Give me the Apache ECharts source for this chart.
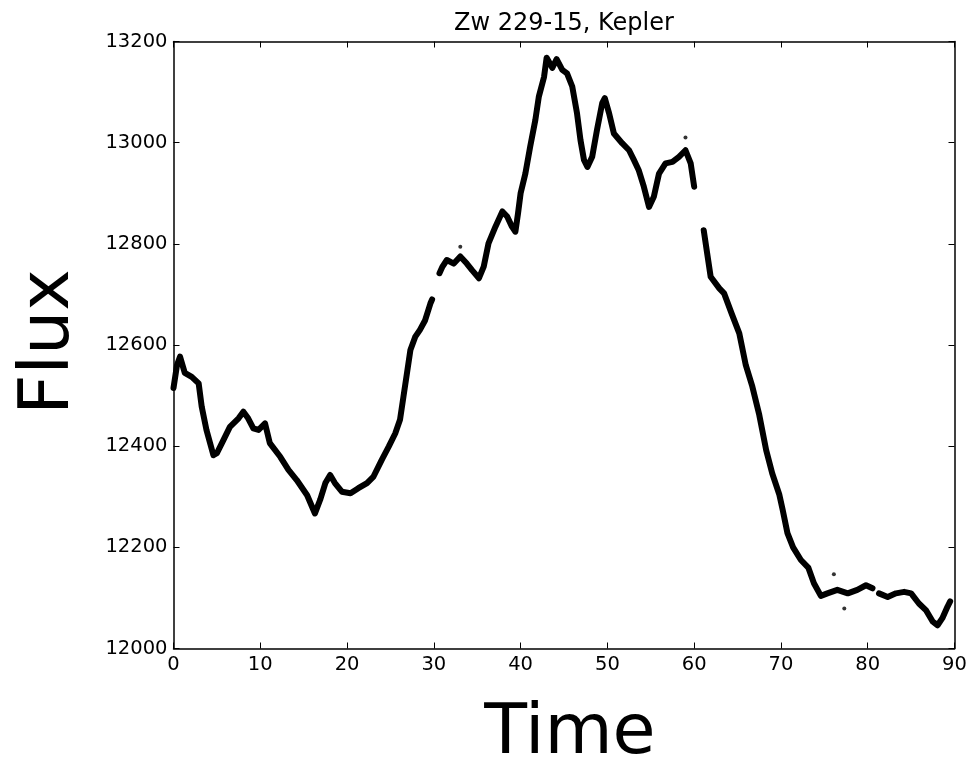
<!DOCTYPE html>
<html>
<head>
<meta charset="utf-8">
<title>Zw 229-15, Kepler</title>
<script src="https://cdn.jsdelivr.net/npm/echarts@6/dist/echarts.min.js"></script>
<style>
  html, body { margin: 0; padding: 0; background: #ffffff; }
  #chart { width: 974px; height: 767px; }
</style>
</head>
<body>
<div id="chart"></div>
<script>
// Light curve of Zw 229-15 (Kepler), time in days, flux in counts.
// A null flux marks a gap between observing quarters.
var timeDays = [
  0, 0.4, 0.75, 1.3, 2.1, 2.9, 3.25, 3.8, 4.6, 5.0, 5.75, 6.5, 7.5, 8.05, 8.6, 9.2, 9.8, 10.55,
  11.1, 12.3, 13.25, 14.2, 15.4, 16.3, 16.9, 17.5, 18.05, 18.6, 19.4, 20.4, 21.3, 22.3, 23.05,
  24.0, 24.8, 25.55, 26.1, 26.5, 26.9, 27.3, 27.85, 28.4, 29.0, 29.6, 29.8,
  30.2,
  30.65, 31.0, 31.5, 32.3, 33.05, 33.8, 34.4, 35.2, 35.75, 36.3, 37.1, 37.9, 38.45, 39.0, 39.4,
  39.7, 40.0, 40.55, 41.1, 41.7, 42.1, 42.7, 43.0, 43.65, 44.15, 44.8, 45.35, 45.95, 46.5, 46.9,
  47.3, 47.7, 48.25, 48.8, 49.4, 49.7, 50.2, 50.75, 51.7, 52.5, 53.05, 53.6, 54.2, 54.8, 55.35,
  55.95, 56.7, 57.5, 58.25, 59.0, 59.6, 60.0,
  60.5,
  61.1, 61.5, 61.9, 62.9, 63.45, 64.3, 65.2, 65.95, 66.7, 67.5, 68.3, 69.0, 69.8, 70.2, 70.75,
  71.4, 72.3, 73.15, 73.8, 74.6, 75.35, 76.5, 77.7, 78.8, 79.8, 80.55,
  80.9,
  81.3, 82.3, 83.25, 84.2, 85.0, 85.9, 86.7, 87.5, 88.05, 88.6, 89.2, 89.5
];
var fluxCounts = [
  12515, 12560, 12577, 12545, 12537, 12524, 12478, 12432, 12382, 12386, 12412, 12438, 12455, 12468, 12455, 12435, 12432, 12445,
  12406, 12379, 12353, 12333, 12303, 12267, 12294, 12327, 12343, 12327, 12310, 12307, 12317, 12327, 12340,
  12373, 12399, 12425, 12452, 12498, 12544, 12590, 12616, 12630, 12649, 12682, 12690,
  null,
  12742, 12755, 12768, 12761, 12775, 12761, 12748, 12732, 12755, 12801, 12834, 12864, 12854, 12834, 12824,
  12860, 12900, 12939, 12992, 13045, 13091, 13130, 13168, 13148, 13165, 13144, 13137, 13111, 13058, 13005,
  12966, 12952, 12972, 13025, 13078, 13088, 13058, 13018, 12999, 12985, 12966, 12946, 12913, 12873, 12893,
  12939, 12959, 12962, 12972, 12985, 12959, 12913,
  null,
  12827, 12781, 12735, 12712, 12702, 12663, 12623, 12560, 12518, 12462, 12392, 12346, 12305, 12274, 12228,
  12200, 12175, 12160, 12129, 12104, 12109, 12116, 12109, 12116, 12125, 12119,
  null,
  12109, 12102, 12109, 12112, 12109, 12089, 12076, 12053, 12046, 12060, 12083, 12093
];
// Isolated points lying off the main band.
var strayTime = [33.05, 59.0, 76.1, 77.3];
var strayFlux = [12794, 13010, 12147, 12079];

var xTicks = { min: 0, max: 90, step: 10 };
var yTicks = { min: 12000, max: 13200, step: 200 };

var chart = echarts.init(document.getElementById('chart'), null, { renderer: 'canvas' });

var curve = timeDays.map(function (t, i) {
  return [t, fluxCounts[i] === null ? '-' : fluxCounts[i]];
});
var stray = strayTime.map(function (t, i) { return [t, strayFlux[i]]; });

var FONT = 'DejaVu Sans';
var plain = function (v) { return String(v); };
var frameLine = { show: true, onZero: false, lineStyle: { color: '#000', width: 1.5 } };
var innerTick = { show: true, inside: true, length: 6, lineStyle: { color: '#000', width: 1 } };

chart.setOption({
  backgroundColor: '#ffffff',
  animation: false,
  grid: { left: 173.5, right: 19.5, top: 41.5, bottom: 118.5, containLabel: false },
  xAxis: [
    {
      type: 'value', position: 'bottom', min: xTicks.min, max: xTicks.max, interval: xTicks.step,
      axisLine: frameLine, axisTick: innerTick, splitLine: { show: false },
      axisLabel: { color: '#000', fontFamily: FONT, fontSize: 19.5, margin: 6, formatter: plain }
    },
    {
      type: 'value', position: 'top', min: xTicks.min, max: xTicks.max, interval: xTicks.step,
      axisLine: frameLine, axisTick: innerTick, splitLine: { show: false },
      axisLabel: { show: false }
    }
  ],
  yAxis: [
    {
      type: 'value', position: 'left', min: yTicks.min, max: yTicks.max, interval: yTicks.step,
      axisLine: frameLine, axisTick: innerTick, splitLine: { show: false },
      axisLabel: { color: '#000', fontFamily: FONT, fontSize: 19.5, margin: 6, formatter: plain }
    },
    {
      type: 'value', position: 'right', min: yTicks.min, max: yTicks.max, interval: yTicks.step,
      axisLine: frameLine, axisTick: innerTick, splitLine: { show: false },
      axisLabel: { show: false }
    }
  ],
  graphic: [
    {
      type: 'text', x: 564, y: 23.5,
      style: { text: 'Zw 229-15, Kepler', fill: '#000', font: '24px "DejaVu Sans"',
               textAlign: 'center', textVerticalAlign: 'middle' }
    },
    {
      type: 'text', x: 570, y: 735,
      style: { text: 'Time', fill: '#000', font: '70px "DejaVu Sans"',
               textAlign: 'center', textVerticalAlign: 'middle' }
    },
    {
      type: 'text', x: 50, y: 342, rotation: Math.PI / 2,
      style: { text: 'Flux', fill: '#000', font: '70px "DejaVu Sans"',
               textAlign: 'center', textVerticalAlign: 'middle' }
    }
  ],
  series: [
    {
      type: 'line', xAxisIndex: 0, yAxisIndex: 0, data: curve,
      connectNulls: false, showSymbol: false, symbol: 'none', smooth: false,
      lineStyle: { color: '#000', width: 6, cap: 'round', join: 'round' },
      z: 3
    },
    {
      type: 'scatter', xAxisIndex: 0, yAxisIndex: 0, data: stray,
      symbol: 'circle', symbolSize: 4, itemStyle: { color: '#000' }, z: 3
    }
  ]
});
</script>
</body>
</html>
